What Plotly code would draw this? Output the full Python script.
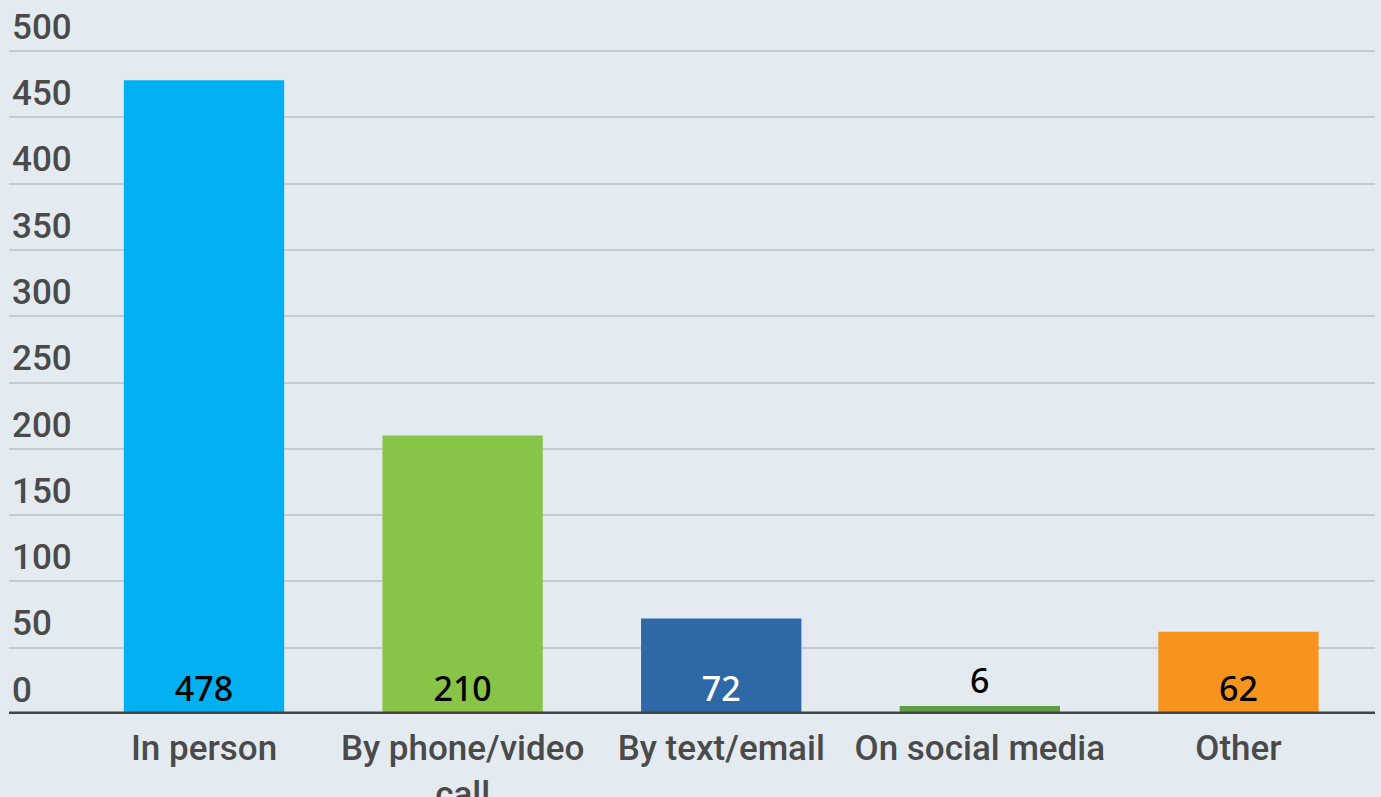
import plotly.graph_objects as go

categories = ["In person", "By phone/video<br>call", "By text/email", "On social media", "Other"]
values = [478, 210, 72, 6, 62]
bar_colors = ["#00b0f0", "#88c447", "#2e68a6", "#5e9c43", "#f7941e"]
label_colors = ["#000000", "#000000", "#ffffff", "#000000", "#000000"]
label_positions = ["inside", "inside", "inside", "outside", "inside"]
y_ticks = [0, 50, 100, 150, 200, 250, 300, 350, 400, 450, 500]

fig = go.Figure(go.Bar(
    x=list(range(len(categories))),
    y=values,
    marker=dict(color=bar_colors, line=dict(width=0)),
    width=0.62,
    text=[str(v) for v in values],
    textposition=label_positions,
    insidetextanchor="start",
    textangle=0,
    constraintext="none",
    cliponaxis=False,
    textfont=dict(family="Noto Sans", size=34, weight=500, color=label_colors),
))

fig.add_shape(type="line", xref="paper", yref="y", x0=0, x1=1, y0=0, y1=0,
              line=dict(color="#444444", width=5), layer="above")

fig.update_layout(
    width=1381, height=797,
    margin=dict(l=9, r=6, t=0, b=83, autoexpand=False),
    paper_bgcolor="#e3ebf1",
    plot_bgcolor="#e3ebf1",
    showlegend=False,
    xaxis=dict(
        tickmode="array",
        tickvals=list(range(len(categories))),
        ticktext=categories,
        range=[-0.754, 4.528],
        showgrid=False, zeroline=False, showline=False,
        ticks="", automargin=False, ticklabelstandoff=10,
        tickfont=dict(family="Roboto", size=35, weight=500, color="#4a4a4a"),
    ),
    yaxis=dict(
        range=[0, 538.5],
        tickmode="array",
        tickvals=y_ticks,
        ticktext=[str(t) for t in y_ticks],
        ticklabelposition="inside top",
        showgrid=True, gridcolor="#c5cbcf", gridwidth=2,
        zeroline=False, showline=False, ticks="", automargin=False,
        tickfont=dict(family="Roboto", size=35, weight=500, color="#4a4a4a"),
    ),
)

fig.write_html("out.html")
